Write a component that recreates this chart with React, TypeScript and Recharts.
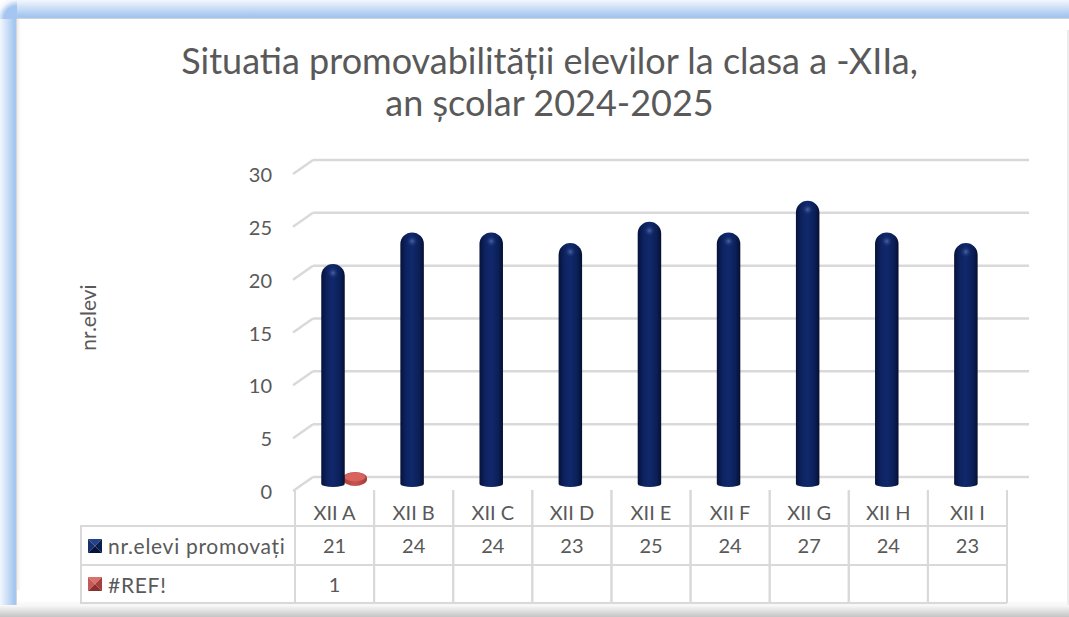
import React from 'react'
import { BarChart, Bar, XAxis, YAxis, CartesianGrid, Legend, Label } from 'recharts'

const CATEGORIES = ['XII A', 'XII B', 'XII C', 'XII D', 'XII E', 'XII F', 'XII G', 'XII H', 'XII I']
const PROMOVATI = [21, 24, 24, 23, 25, 24, 27, 24, 23]
const REF_VALUES: (number | null)[] = [1, null, null, null, null, null, null, null, null]
const Y_TICKS = [0, 5, 10, 15, 20, 25, 30]
const SERIES_NAMES: Record<string, string> = {
  promovati: 'nr.elevi promovați',
  ref: '#REF!',
}
const SERIES_ORDER = ['promovati', 'ref']

const TITLE_LINES = ['Situatia promovabilității elevilor la clasa a -XIIa,', 'an școlar 2024-2025']

const data = CATEGORIES.map((cat, i) => ({ cat, promovati: PROMOVATI[i], ref: REF_VALUES[i] }))

const W = 1069
const H = 617
const FONT = 'Lato, "Open Sans", sans-serif'
const TEXT = '#595959'
const LINE = '#d9d9d9'
const GLOW = '#a4c6f0'
const PLOT_LEFT = 295
const PLOT_RIGHT = 1007
const COL_W = (PLOT_RIGHT - PLOT_LEFT) / CATEGORIES.length

function Cylinder(props: any) {
  const { x, y, width, height } = props
  if (height == null || !(height > 0)) return null
  const w = 23.5
  const r = w / 2
  const cx = x + width / 2 - 2
  const left = cx - r
  const bottom = y + height
  const d = `M${left},${bottom - 2} L${left},${y + r} A${r},${r} 0 0 1 ${left + w},${y + r} L${left + w},${bottom - 2} A${r},3 0 0 1 ${left},${bottom - 2} Z`
  return (
    <g>
      <path d={d} fill="url(#cylBlue)" />
      <circle cx={cx} cy={y + r * 0.75} r={6} fill="url(#capShine)" />
    </g>
  )
}

function Puck(props: any) {
  const { x, y, width, height } = props
  if (height == null || !(height > 0)) return null
  const w = 24
  const cx = x + width / 2 + 20
  const left = cx - w / 2
  return (
    <g>
      <rect x={left} y={y - 3.5} width={w} height={height + 3.5} rx={12} ry={6.5} fill="url(#puckRed)" />
      <ellipse cx={cx} cy={y + 1.5} rx={10.5} ry={4.5} fill="#d8625e" />
    </g>
  )
}

const renderGridLine = (p: any) => {
  const { x1, x2, y1, index } = p
  return (
    <g key={`grid-${index}-${y1}`}>
      <line x1={x1 - 2} y1={y1 + 5} x2={x1 + 18} y2={y1 - 9} stroke={LINE} strokeWidth={2.5} />
      <line x1={x1 + 18} y1={y1 - 9} x2={x2 + 22} y2={y1 - 9} stroke={LINE} strokeWidth={2.5} />
    </g>
  )
}

const YTick = ({ x, y, payload }: any) => (
  <text x={x} y={y + 5} textAnchor="end" dominantBaseline="central" fill={TEXT} fontSize={20} fontFamily={FONT}>
    {payload.value}
  </text>
)

// each category tick draws its own column of the data table
const TableTick = ({ x, y, payload, index }: any) => {
  const left = x - COL_W / 2
  const right = x + COL_W / 2
  const base = y
  const ref = REF_VALUES[index]
  const txt = { textAnchor: 'middle' as const, dominantBaseline: 'central' as const, fill: TEXT, fontSize: 20, fontFamily: FONT }
  return (
    <g>
      <line x1={left} y1={base + 4} x2={left} y2={base + 117} stroke={LINE} strokeWidth={2} />
      <line x1={right} y1={base + 4} x2={right} y2={base + 117} stroke={LINE} strokeWidth={2} />
      <line x1={left} y1={base + 40} x2={right} y2={base + 40} stroke={LINE} strokeWidth={2} />
      <line x1={left} y1={base + 79} x2={right} y2={base + 79} stroke={LINE} strokeWidth={2} />
      <line x1={left} y1={base + 117} x2={right} y2={base + 117} stroke={LINE} strokeWidth={2} />
      <text x={x} y={base + 26} {...txt}>{payload.value}</text>
      <text x={x} y={base + 59} {...txt}>{PROMOVATI[index]}</text>
      {ref != null && <text x={x} y={base + 98} {...txt}>{ref}</text>}
    </g>
  )
}

function BevelIcon({ color }: { color: string }) {
  const shades = color === '#c0504d'
    ? ['#d8716d', '#c65955', '#a63f3c', '#8a302e']
    : ['#24428c', '#17316f', '#0b1d4c', '#06143a']
  return (
    <svg width={14} height={14} style={{ display: 'block', flex: 'none' }}>
      <polygon points="0,0 14,0 7,7" fill={shades[0]} />
      <polygon points="0,0 0,14 7,7" fill={shades[1]} />
      <polygon points="14,0 14,14 7,7" fill={shades[2]} />
      <polygon points="0,14 14,14 7,7" fill={shades[3]} />
    </svg>
  )
}

const TableLegend = ({ payload }: any) => {
  const items = [...(payload || [])].sort(
    (a: any, b: any) => SERIES_ORDER.indexOf(a.dataKey) - SERIES_ORDER.indexOf(b.dataKey)
  )
  return (
    <div style={{ boxSizing: 'border-box', width: 216, height: 79, borderLeft: `2px solid ${LINE}`, borderTop: `2px solid ${LINE}`, borderBottom: `2px solid ${LINE}` }}>
      {items.map((it: any, i: number) => (
        <div
          key={it.dataKey}
          style={{
            height: i === 0 ? 37 : 36,
            borderBottom: i === 0 ? `2px solid ${LINE}` : 'none',
            display: 'flex',
            alignItems: 'center',
            paddingLeft: 6,
            gap: 6,
            fontFamily: FONT,
            fontSize: 21,
            letterSpacing: 0.7,
            color: TEXT,
            whiteSpace: 'nowrap',
          }}
        >
          <BevelIcon color={it.color} />
          <span>{it.value}</span>
        </div>
      ))}
    </div>
  )
}

const YLabel = ({ viewBox }: any) => {
  const cx = viewBox.x + 6
  const cy = viewBox.y + viewBox.height / 2 - 10
  return (
    <text x={cx} y={cy} transform={`rotate(-90, ${cx}, ${cy})`} textAnchor="middle" dominantBaseline="central" fill={TEXT} fontSize={21} fontFamily={FONT}>
      nr.elevi
    </text>
  )
}

export default function App() {
  return (
    <div style={{ position: 'absolute', left: 0, top: 0, width: W, height: H, overflow: 'hidden', background: '#fff' }}>
      {/* frame: blue glow on top and left, grey shadow at the bottom */}
      <div style={{ position: 'absolute', left: 17, top: 0, width: W - 17, height: 19, background: `linear-gradient(#f3f7fd, ${GLOW} 85%)` }} />
      <div style={{ position: 'absolute', left: 0, top: 19, width: 17, height: 592, background: `linear-gradient(to right, #f3f7fd, ${GLOW} 85%)` }} />
      <div style={{ position: 'absolute', left: 0, top: 0, width: 17, height: 19, background: `radial-gradient(circle at 100% 100%, ${GLOW} 0px, ${GLOW} 13px, #f3f7fd 19px, #fff 24px)` }} />
      <div style={{ position: 'absolute', left: 17, top: 18, width: W - 17, height: 1, background: '#cfd3d8' }} />
      <div style={{ position: 'absolute', left: 16, top: 19, width: 1, height: 586, background: '#d3d7dc' }} />
      <div style={{ position: 'absolute', left: 17, top: 19, width: 4, height: 586, background: 'linear-gradient(to right, #ececec, #fff)' }} />
      <div style={{ position: 'absolute', left: 1040, top: 19, width: 27, height: 586, background: '#fff' }} />
      <div style={{ position: 'absolute', left: 17, top: 590, width: W - 17, height: 15, background: 'linear-gradient(#fff, #fff 70%, #f6f6f6)' }} />
      <div style={{ position: 'absolute', left: 0, top: 605, width: W, height: 12, background: 'linear-gradient(#fafafa, #c4c4c4)' }} />
      <div style={{ position: 'absolute', left: W - 2, top: 30, width: 2, height: 575, background: '#ececec' }} />
      <div
        style={{
          position: 'absolute',
          left: 0,
          top: 39,
          width: 1099,
          textAlign: 'center',
          fontFamily: FONT,
          fontSize: 36,
          lineHeight: '42px',
          color: TEXT,
        }}
      >
        {TITLE_LINES.map(t => (
          <div key={t}>{t}</div>
        ))}
      </div>
      <div style={{ position: 'absolute', left: 0, top: 0 }}>
        <BarChart
          width={W}
          height={H}
          data={data}
          margin={{ top: 169, right: W - PLOT_RIGHT, bottom: 0, left: 81 }}
          barSize={24}
          barGap={-24}
          barCategoryGap={0}
          accessibilityLayer={false}
        >
          <defs>
            <linearGradient id="cylBlue" x1="0" y1="0" x2="1" y2="0">
              <stop offset="0%" stopColor="#061239" />
              <stop offset="25%" stopColor="#0d2361" />
              <stop offset="50%" stopColor="#11286b" />
              <stop offset="80%" stopColor="#0b2058" />
              <stop offset="100%" stopColor="#050f31" />
            </linearGradient>
            <radialGradient id="capShine">
              <stop offset="0%" stopColor="#5b78b8" stopOpacity={0.75} />
              <stop offset="100%" stopColor="#11286b" stopOpacity={0} />
            </radialGradient>
            <linearGradient id="puckRed" x1="0" y1="0" x2="1" y2="0">
              <stop offset="0%" stopColor="#a83f3c" />
              <stop offset="50%" stopColor="#cd5450" />
              <stop offset="100%" stopColor="#a33b38" />
            </linearGradient>
          </defs>
          <CartesianGrid vertical={false} horizontal={renderGridLine} />
          <XAxis
            dataKey="cat"
            height={131}
            interval={0}
            tickLine={false}
            axisLine={false}
            tickSize={0}
            tickMargin={0}
            tick={<TableTick />}
          />
          <YAxis
            width={214}
            domain={[0, 30]}
            ticks={Y_TICKS}
            tickLine={false}
            axisLine={false}
            tickSize={0}
            tickMargin={23}
            tick={<YTick />}
          >
            <Label content={<YLabel />} />
          </YAxis>
          <Legend
            layout="vertical"
            align="center"
            verticalAlign="middle"
            content={<TableLegend />}
            wrapperStyle={{ position: 'absolute', left: 80, top: 525, width: 216, height: 79 }}
          />
          <Bar dataKey="ref" name={SERIES_NAMES.ref} fill="#c0504d" shape={<Puck />} isAnimationActive={false} />
          <Bar dataKey="promovati" name={SERIES_NAMES.promovati} fill="#0f2866" shape={<Cylinder />} isAnimationActive={false} />
        </BarChart>
      </div>
    </div>
  )
}
